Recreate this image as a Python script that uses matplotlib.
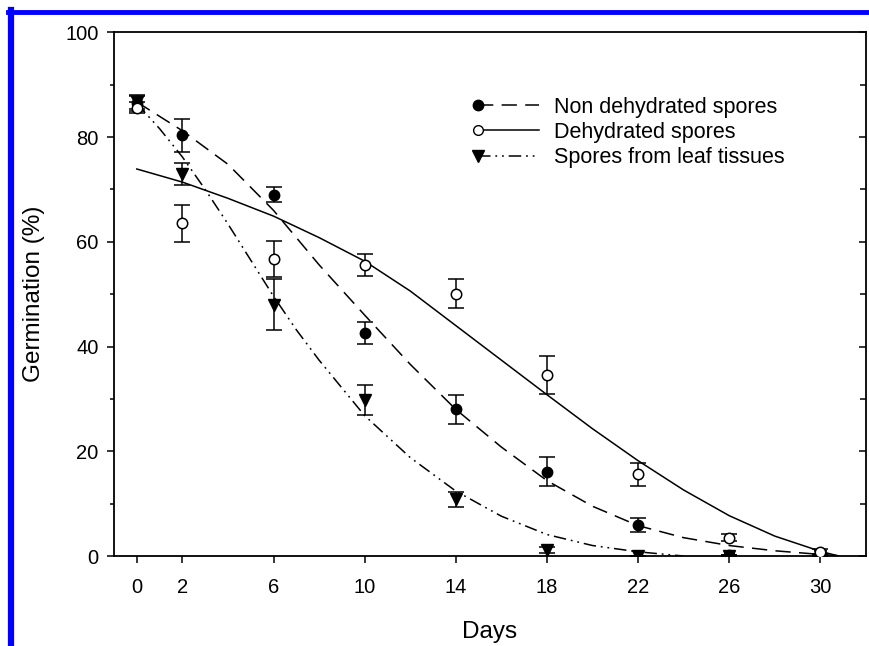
import numpy as np
import matplotlib
matplotlib.use("Agg")
import matplotlib.pyplot as plt
from matplotlib.lines import Line2D
from matplotlib.legend_handler import HandlerLine2D

plt.rcParams['font.family'] = ['Liberation Sans', 'DejaVu Sans']
plt.rcParams['lines.scale_dashes'] = False

# measured germination (%), mean and error per sampling day
days = [0, 2, 6, 10, 14, 18, 22, 26, 30]
tick_days = [0, 2, 6, 10, 14, 18, 22, 26, 30]

non_dehyd = [86.5, 80.3, 69.0, 42.6, 28.0, 16.1, 5.9, 0.2, 0.4]
non_dehyd_err = [1.6, 3.2, 1.4, 2.1, 2.8, 2.8, 1.4, 0.0, 0.0]

dehyd = [85.6, 63.5, 56.7, 55.6, 50.1, 34.5, 15.6, 3.5, 0.8]
dehyd_err = [1.0, 3.5, 3.4, 2.1, 2.8, 3.6, 2.2, 0.7, 0.5]

leaf = [86.6, 73.0, 48.0, 29.8, 10.8, 1.1, 0.0, 0.0, 0.0]
leaf_err = [1.2, 2.1, 4.8, 2.8, 1.4, 0.6, 0.0, 0.0, 0.0]

# fitted curves
fit_x_nd = [0, 2, 4, 6, 8, 10, 12, 14, 16, 18, 20, 22, 24, 26, 28, 30, 31]
fit_y_nd = [86.7, 81.2, 74.8, 66.0, 55.6, 46.0, 36.6, 28.0, 20.8, 14.4, 9.5, 5.8,
            3.5, 2.0, 1.0, 0.3, 0.0]

fit_x_d = [0, 2, 4, 6, 8, 10, 12, 14, 16, 18, 20, 22, 24, 26, 28, 30, 30.8]
fit_y_d = [73.9, 71.4, 68.3, 64.9, 60.8, 56.3, 50.6, 44.0, 37.4, 30.8, 24.3, 18.2,
           12.6, 7.7, 3.8, 0.9, 0.0]

fit_x_leaf = [0, 1, 2, 3, 4, 5, 6, 7, 8, 10, 12, 14, 16, 18, 20, 22, 24]
fit_y_leaf = [86.4, 81.6, 76.2, 70.0, 63.4, 56.5, 49.6, 43.2, 37.4, 26.8, 18.8,
              12.4, 7.6, 4.1, 2.0, 0.8, 0.0]

labels = ['Non dehydrated spores', 'Dehydrated spores', 'Spores from leaf tissues']

dash_nd = (0, (11, 6))
dash_leaf = (0, (9, 3.5, 1.3, 3.5, 1.3, 3.5))


class LeftMarker(HandlerLine2D):
    # marker on the left end of the legend line, like the original
    def create_artists(self, *args, **kwargs):
        arts = super().create_artists(*args, **kwargs)
        for a in arts:
            if a.get_marker() not in (None, 'None', ''):
                a.set_markevery([0])
        return arts


fig = plt.figure(figsize=(8.69, 6.46), dpi=100)
ax = fig.add_axes([0.1312, 0.1393, 0.8653, 0.8107])

lw = 1.1
ax.plot(fit_x_nd, fit_y_nd, color='black', lw=lw, linestyle=dash_nd)
ax.plot(fit_x_d, fit_y_d, color='black', lw=lw, linestyle='-')
ax.plot(fit_x_leaf, fit_y_leaf, color='black', lw=lw, linestyle=dash_leaf)

eb = dict(fmt='none', ecolor='black', elinewidth=1.1, capsize=5.5, capthick=1.1)
ax.errorbar(days, dehyd, yerr=dehyd_err, **eb)
ax.errorbar(days, non_dehyd, yerr=non_dehyd_err, **eb)
ax.errorbar(days, leaf, yerr=leaf_err, **eb)

ms = 7.5
ax.plot(days, leaf, linestyle='none', marker='v', ms=ms + 0.5, mfc='black', mec='black', zorder=5)
ax.plot(days, non_dehyd, linestyle='none', marker='o', ms=ms, mfc='black', mec='black', zorder=6)
ax.plot(days, dehyd, linestyle='none', marker='o', ms=ms, mfc='white', mec='black', mew=1.1, zorder=7)

handles = [
    Line2D([], [], color='black', lw=lw, linestyle=dash_nd, marker='o', ms=ms, mfc='black', mec='black'),
    Line2D([], [], color='black', lw=lw, linestyle='-', marker='o', ms=ms - 0.5, mfc='white', mec='black'),
    Line2D([], [], color='black', lw=lw, linestyle=dash_leaf, marker='v', ms=ms + 0.5, mfc='black', mec='black'),
]
ax.legend(handles, labels, loc='upper left', bbox_to_anchor=(0.484, 0.877),
          frameon=False, fontsize=15.5, handlelength=2.85, handletextpad=0.68,
          labelspacing=0.2, borderpad=0, borderaxespad=0, numpoints=1,
          handler_map={Line2D: LeftMarker()})

ax.set_xlim(-1.0, 32.0)
ax.set_ylim(0, 100)
ax.set_xticks(tick_days)
ax.set_yticks(np.arange(0, 101, 20))
ax.set_yticks(np.arange(10, 100, 20), minor=True)

ax.tick_params(axis='x', which='both', direction='out', length=5, width=1.1, labelsize=14.5, pad=11,
               top=False)
ax.tick_params(axis='y', which='major', direction='out', length=5, width=1.1, labelsize=14.5, pad=6)
ax.tick_params(axis='y', which='minor', direction='out', length=3, width=1.1)

# ticks pointing inward on the right spine
sec = ax.secondary_yaxis('right')
sec.set_yticks(np.arange(0, 101, 20))
sec.set_yticks(np.arange(10, 100, 20), minor=True)
sec.tick_params(which='major', direction='in', length=5, width=1.1, labelright=False)
sec.tick_params(which='minor', direction='in', length=4, width=1.1)
sec.spines['right'].set_visible(False)

for s in ax.spines.values():
    s.set_linewidth(1.3)

ax.set_xlabel('Days', fontsize=17.5, labelpad=17)
ax.set_ylabel('Germination (%)', fontsize=17.5, labelpad=15)

# blue frame lines at top and left of the page
fig.add_artist(Line2D([0.009, 1.0], [0.981, 0.981], color='#0000ff', lw=3.5,
                      transform=fig.transFigure))
fig.add_artist(Line2D([0.013, 0.013], [0.0, 0.984], color='#0000ff', lw=4.5,
                      transform=fig.transFigure))

fig.savefig('out.png', dpi=100)
